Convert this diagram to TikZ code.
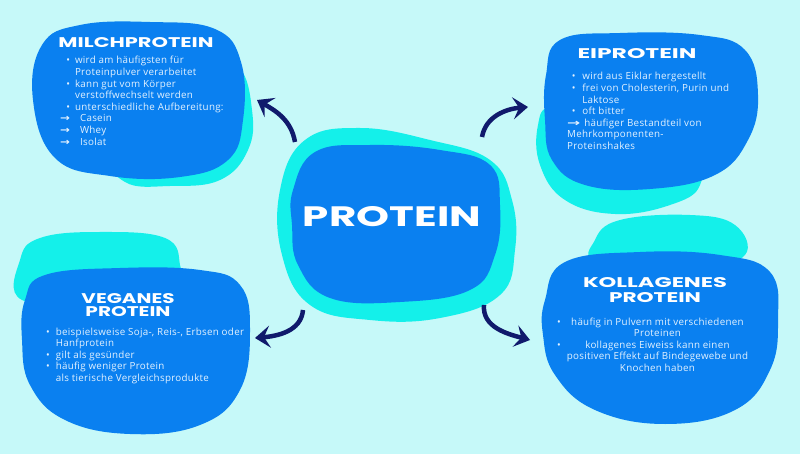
\documentclass[tikz,border=0pt]{standalone}
\usepackage{fontspec}
\setmainfont{Open Sans}[LetterSpace=3]
\newfontfamily\headfont{Poppins}
\newfontfamily\arrowfont{DejaVu Sans}
\usetikzlibrary{positioning, arrows.meta}
\definecolor{bgcyan}{RGB}{198,249,249}
\definecolor{blobblue}{RGB}{10,128,240}
\definecolor{blobcyan}{RGB}{20,240,234}
\definecolor{arrownavy}{RGB}{16,26,108}
\definecolor{textwhite}{RGB}{228,242,255}
\newcommand{\headtext}[2]{\resizebox{#1}{10pt}{#2}}
\newcommand{\textarrow}[1]{\scalebox{#1}[1]{\arrowfont\bfseries →}}
\tikzset{blue blob/.style={fill=blobblue, draw=none},
         cyan blob/.style={fill=blobcyan, draw=none},
         headline/.style={inner sep=0pt, text=white, font=\headfont\bfseries, anchor=base},
         body/.style={inner sep=0pt, text=textwhite, font=\fontsize{9.8}{11.6}\selectfont, anchor=base west},
         curvearrow/.style={draw=arrownavy, line width=4.5pt, -{Stealth[length=15pt, width=22pt, inset=6pt]}}}

\begin{document}
\begin{tikzpicture}[x=1pt, y=-1pt]
    \useasboundingbox (0,0) rectangle (800,454);
    \fill[bgcyan] (0,0) rectangle (800,454);

    % blobs
    \path[cyan blob] plot[smooth cycle, tension=0.7] coordinates {(120,70) (200,58) (238,66) (252,110) (248,150) (220,180) (170,186) (125,182) (110,150)};
    \path[blue blob] plot[smooth cycle, tension=0.7] coordinates {(33,100) (42,45) (80,25) (150,22) (215,29) (241,62) (243,120) (228,160) (180,177) (110,176) (55,158)};

    \path[cyan blob] plot[smooth cycle, tension=0.7] coordinates {(538,125) (552,106) (600,110) (690,150) (700,185) (670,205) (615,214) (565,200) (540,165)};
    \path[blue blob] plot[smooth cycle, tension=0.7] coordinates {(546,75) (560,40) (620,33) (700,35) (745,50) (758,95) (748,140) (715,175) (650,189) (585,185) (552,160) (545,120)};

    \path[cyan blob] plot[smooth cycle, tension=0.7] coordinates {(20,260) (40,238) (100,232) (165,238) (180,265) (175,290) (100,300) (22,300)};
    \path[blue blob] plot[smooth cycle, tension=0.7] coordinates {(25,300) (45,275) (120,268) (200,270) (240,285) (250,330) (240,390) (200,425) (130,434) (65,420) (30,385) (22,340)};

    \path[cyan blob] plot[smooth cycle, tension=0.7] coordinates {(595,240) (620,220) (690,215) (735,225) (745,255) (700,265) (600,262)};
    \path[blue blob] plot[smooth cycle, tension=0.7] coordinates {(545,300) (565,262) (640,252) (720,255) (770,272) (778,320) (770,370) (735,410) (665,424) (595,410) (555,375) (543,335)};

    \path[cyan blob] plot[smooth cycle, tension=0.7] coordinates {(280,190) (305,140) (360,128) (430,140) (490,160) (512,200) (515,250) (500,295) (440,318) (370,320) (310,305) (282,255)};
    \path[blue blob] plot[smooth cycle, tension=0.7] coordinates {(293,190) (315,152) (370,145) (440,150) (490,165) (500,205) (495,255) (470,290) (400,302) (330,298) (298,265) (292,225)};

    % titles
    \node[headline] (protein) at (392,227) {\resizebox{178pt}{20pt}{PROTEIN}};
    \node[headline] (milch) at (136,48) {\headtext{155pt}{MILCHPROTEIN}};
    \node[headline] (ei) at (637,59) {\headtext{119pt}{EIPROTEIN}};
    \node[headline] (vegan1) at (128,303) {\headtext{93pt}{VEGANES}};
    \node[headline, anchor=north, below=3pt of vegan1] (vegan2) {\headtext{85pt}{PROTEIN}};
    \node[headline] (koll1) at (655,287) {\headtext{144pt}{KOLLAGENES}};
    \node[headline, anchor=north, below=5pt of koll1] (koll2) {\headtext{92pt}{PROTEIN}};

    % texts
    \node[body] (milchtext) at (60,64) {\begin{tabular}[t]{@{}r@{\hspace{5pt}}l@{}}
        \textbullet & wird am häufigsten für\\
         & Proteinpulver verarbeitet\\
        \textbullet & kann gut vom Körper\\
         & verstoffwechselt werden\\
        \textbullet & unterschiedliche Aufbereitung:\\
        \textarrow{1.2} & \hspace{5pt}Casein\\
        \textarrow{1.2} & \hspace{5pt}Whey\\
        \textarrow{1.2} & \hspace{5pt}Isolat
    \end{tabular}};
    \node[body] (eitext) at (567,80) {\begin{tabular}[t]{@{}c@{\hspace{2pt}}l@{}}
        \textbullet & wird aus Eiklar hergestellt\\
        \textbullet & frei von Cholesterin, Purin und\\
         & Laktose\\
        \textbullet & oft bitter\\
        \textarrow{1.6} & \hspace{2pt}häufiger Bestandteil von\\
        \multicolumn{2}{@{}l@{}}{Mehrkomponenten-}\\
        \multicolumn{2}{@{}l@{}}{Proteinshakes}
    \end{tabular}};
    \node[body] (vegantext) at (46,335) {\begin{tabular}[t]{@{}l@{\hspace{6pt}}l@{}}
        \textbullet & beispielsweise Soja-, Reis-, Erbsen oder\\
         & Hanfprotein\\
        \textbullet & gilt als gesünder\\
        \textbullet & häufig weniger Protein\\
         & als tierische Vergleichsprodukte
    \end{tabular}};
    \node[body] (kolltext) at (557,325) {\begin{tabular}[t]{@{}l@{\hspace{6pt}}c@{}}
        \textbullet & häufig in Pulvern mit verschiedenen\\
         & Proteinen\\
        \textbullet & kollagenes Eiweiss kann einen\\
         & positiven Effekt auf Bindegewebe und\\
         & Knochen haben
    \end{tabular}};

    % arrows
    \coordinate (milchtail) at (295,142);
    \coordinate (milchhead) at (257,100);
    \coordinate (eitail) at (482,137);
    \coordinate (eihead) at (528,107);
    \coordinate (vegantail) at (303,310);
    \coordinate (veganhead) at (255,338);
    \coordinate (kolltail) at (484,305);
    \coordinate (kollhead) at (530,340);

    \draw[curvearrow] (milchtail) to[out=100, in=-30] (milchhead);
    \draw[curvearrow] (eitail) to[out=80, in=185] (eihead);
    \draw[curvearrow] (vegantail) to[out=-95, in=5] (veganhead);
    \draw[curvearrow] (kolltail) to[out=-95, in=165] (kollhead);
\end{tikzpicture}
\end{document}
